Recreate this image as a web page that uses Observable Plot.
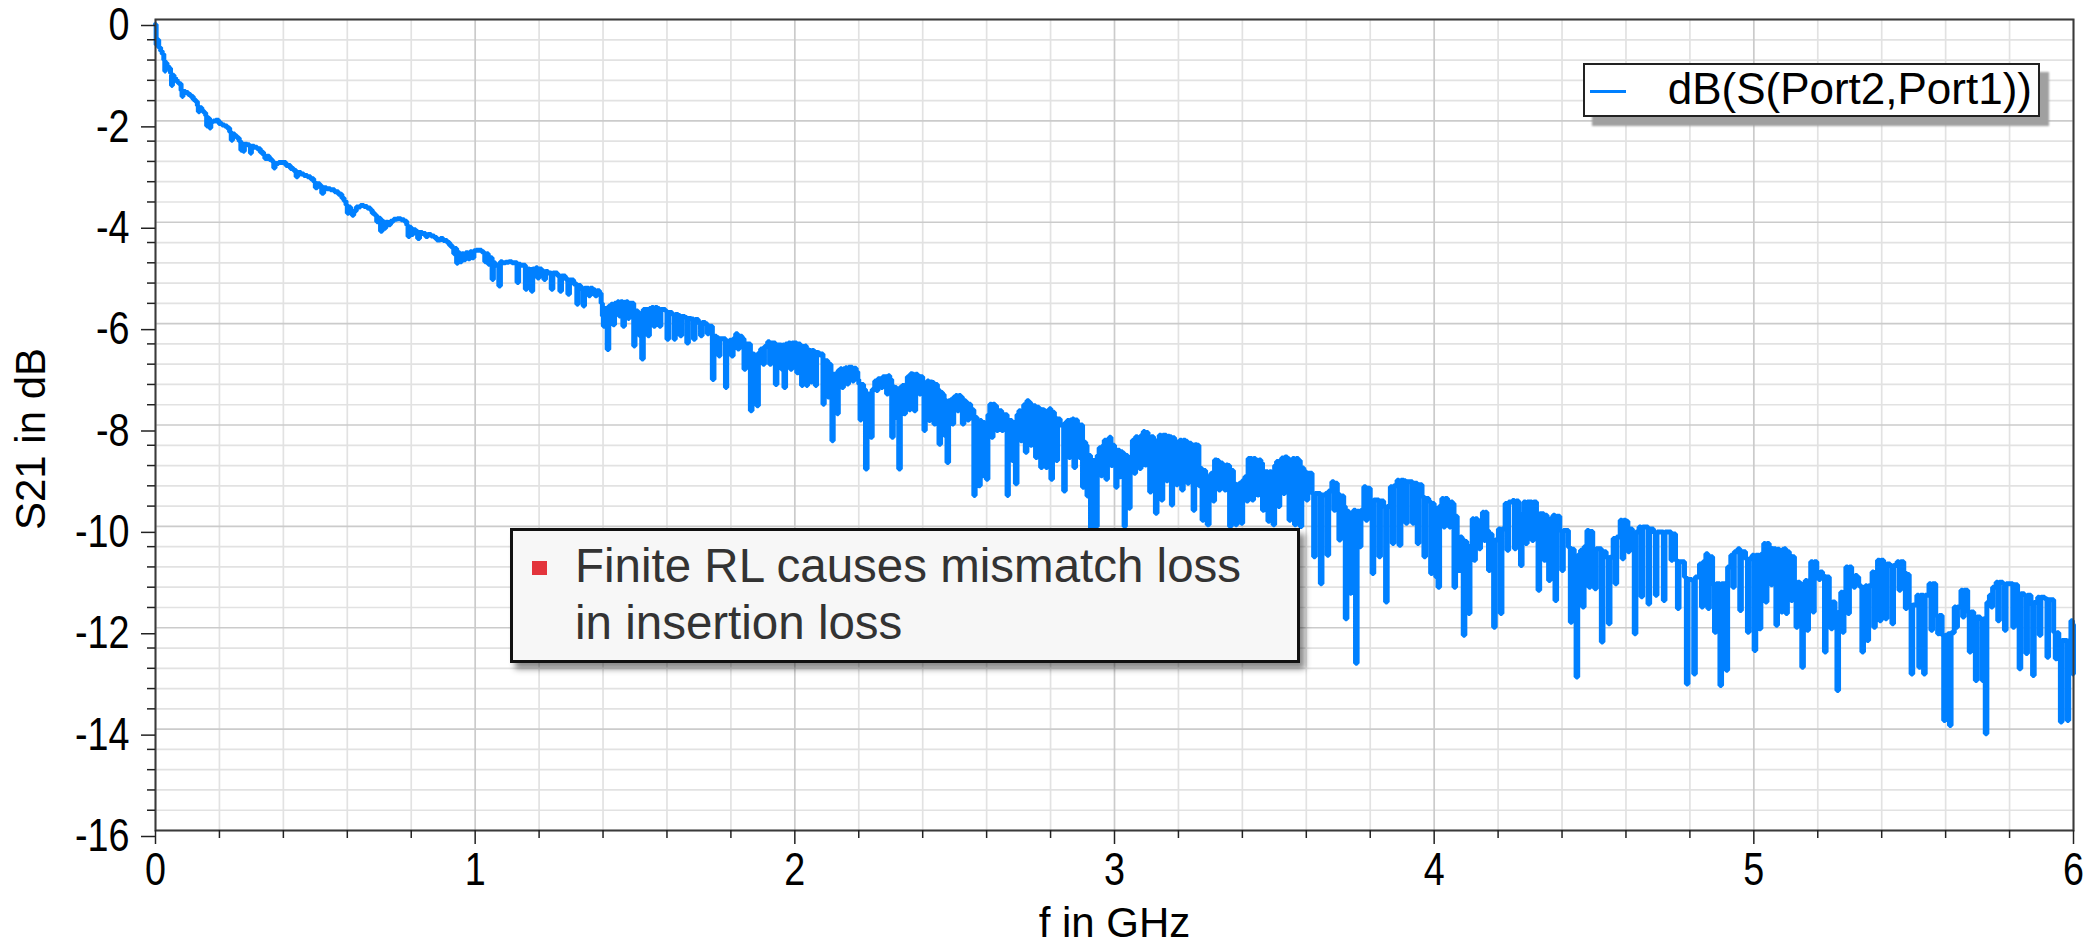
<!DOCTYPE html>
<html><head><meta charset="utf-8">
<script src="https://cdn.jsdelivr.net/npm/d3@7"></script>
<script src="https://cdn.jsdelivr.net/npm/@observablehq/plot@0.6"></script>
<style>
html,body{margin:0;padding:0;background:#fff;}
#wrap{position:relative;width:2097px;height:944px;font-family:"Liberation Sans",Arial,sans-serif;color:#000;}
#legend{position:absolute;left:1583px;top:63px;width:457px;height:54px;box-sizing:border-box;border:2px solid #222;background:#fff;box-shadow:9px 9px 2px #a0a0a0;}
#legend .swatch{position:absolute;left:5px;top:25px;width:36px;height:3px;background:#0080ff;}
#legend .lbl{position:absolute;right:6px;top:-1px;font-size:44px;line-height:50px;white-space:nowrap;}
#note{position:absolute;left:510px;top:528px;width:790px;height:135px;box-sizing:border-box;border:3px solid #111;background:#f7f7f7;box-shadow:5px 6px 6px rgba(0,0,0,0.45);}
#note .bullet{position:absolute;left:19px;top:30px;width:15px;height:14px;background:#e3343c;}
#note .txt{position:absolute;left:62px;top:6px;font-size:47.5px;line-height:57px;color:#333;white-space:nowrap;}
svg text{font-family:"Liberation Sans",Arial,sans-serif;}
</style>
</head><body>
<div id="wrap">
  <div id="chart"></div>
  <div id="legend"><div class="swatch"></div><div class="lbl">dB(S(Port2,Port1))</div></div>
  <div id="note"><div class="bullet"></div><div class="txt">Finite RL causes mismatch loss<br>in insertion loss</div></div>
</div>
<script>
// ---- tick values ----
const xMajor = [0, 1, 2, 3, 4, 5, 6];
const xMinor = [0.2,0.4,0.6,0.8,1.2,1.4,1.6,1.8,2.2,2.4,2.6,2.8,3.2,3.4,3.6,3.8,4.2,4.4,4.6,4.8,5.2,5.4,5.6,5.8];
const yMajor = [0, -2, -4, -6, -8, -10, -12, -14, -16];
const yMinor = [-0.4,-0.8,-1.2,-1.6,-2.4,-2.8,-3.2,-3.6,-4.4,-4.8,-5.2,-5.6,-6.4,-6.8,-7.2,-7.6,-8.4,-8.8,-9.2,-9.6,-10.4,-10.8,-11.2,-11.6,-12.4,-12.8,-13.2,-13.6,-14.4,-14.8,-15.2,-15.6];
const xLabel = "f in GHz";
const yLabel = "S21 in dB";
const seriesName = "dB(S(Port2,Port1))";

// ---- S21 trace, [f (GHz), dB] ----
const seg0 = [[0.000,-0.10],[0.002,-0.50],[0.006,-0.40],[0.010,-0.55],[0.016,-0.62],[0.021,-0.68],[0.026,-0.80],[0.029,-1.02],[0.031,-0.86],[0.036,-0.92],[0.042,-0.96],[0.047,-1.06],[0.050,-1.30],[0.053,-1.10],[0.058,-1.15],[0.063,-1.19],[0.068,-1.24],[0.073,-1.27],[0.080,-1.40],[0.083,-1.52],[0.086,-1.42],[0.094,-1.44],[0.102,-1.48],[0.110,-1.52],[0.118,-1.58],[0.125,-1.62],[0.131,-1.70],[0.134,-1.82],[0.138,-1.74],[0.145,-1.80],[0.151,-1.84],[0.157,-1.90],[0.160,-2.10],[0.164,-1.95],[0.169,-2.14],[0.173,-2.02],[0.180,-2.00],[0.188,-1.99],[0.198,-2.05],[0.208,-2.08],[0.216,-2.10],[0.224,-2.14],[0.232,-2.22],[0.237,-2.38],[0.241,-2.26],[0.248,-2.30],[0.255,-2.34],[0.262,-2.40],[0.267,-2.58],[0.270,-2.45],[0.274,-2.60],[0.278,-2.46],[0.287,-2.47],[0.294,-2.50],[0.297,-2.64],[0.300,-2.50],[0.309,-2.52],[0.318,-2.55],[0.328,-2.62],[0.338,-2.68],[0.342,-2.74],[0.347,-2.70],[0.356,-2.76],[0.365,-2.80],[0.370,-2.93],[0.374,-2.84],[0.385,-2.82],[0.396,-2.82],[0.408,-2.88],[0.422,-2.94],[0.432,-2.98],[0.440,-3.10],[0.445,-3.02],[0.455,-3.05],[0.464,-3.08],[0.475,-3.10],[0.485,-3.14],[0.495,-3.20],[0.500,-3.32],[0.506,-3.24],[0.514,-3.28],[0.520,-3.43],[0.526,-3.32],[0.535,-3.34],[0.547,-3.36],[0.560,-3.40],[0.572,-3.45],[0.583,-3.52],[0.590,-3.58],[0.596,-3.66],[0.600,-3.82],[0.604,-3.70],[0.610,-3.80],[0.615,-3.86],[0.620,-3.78],[0.628,-3.70],[0.641,-3.67],[0.652,-3.69],[0.662,-3.72],[0.672,-3.76],[0.678,-3.82],[0.686,-3.86],[0.692,-3.99],[0.698,-3.92],[0.704,-4.18],[0.709,-3.98],[0.714,-4.12],[0.720,-4.00],[0.728,-4.05],[0.735,-3.98],[0.745,-3.94],[0.756,-3.93],[0.768,-3.95],[0.778,-3.98],[0.786,-4.06],[0.790,-4.28],[0.795,-4.10],[0.800,-4.24],[0.806,-4.15],[0.814,-4.18],[0.820,-4.32],[0.826,-4.20],[0.835,-4.22],[0.845,-4.28],[0.852,-4.24],[0.862,-4.27],[0.872,-4.30],[0.880,-4.35],[0.891,-4.32],[0.900,-4.36],[0.912,-4.40],[0.920,-4.46],[0.928,-4.51],[0.933,-4.62],[0.937,-4.52],[0.942,-4.81],[0.946,-4.60],[0.952,-4.78],[0.958,-4.62],[0.964,-4.74],[0.970,-4.60],[0.978,-4.72],[0.984,-4.58],[0.990,-4.70],[0.996,-4.56]];
const seg1 = [[1.003,-4.55],[1.010,-4.55],[1.020,-4.58],[1.027,-4.60],[1.030,-4.78],[1.036,-4.62],[1.041,-4.83],[1.046,-4.70],[1.053,-5.13],[1.057,-4.80],[1.063,-4.85],[1.074,-5.26],[1.079,-4.78],[1.085,-4.80],[1.095,-4.79],[1.105,-4.78],[1.115,-4.80],[1.131,-5.19],[1.136,-4.83],[1.142,-4.85],[1.157,-5.32],[1.162,-4.92],[1.170,-4.93],[1.176,-5.36],[1.180,-4.92],[1.190,-4.90],[1.195,-5.10],[1.200,-4.92],[1.208,-4.96],[1.215,-5.13],[1.220,-4.97],[1.228,-5.00],[1.238,-5.32],[1.243,-5.00],[1.257,-5.05],[1.265,-5.36],[1.270,-5.06],[1.282,-5.12],[1.290,-5.42],[1.295,-5.14],[1.308,-5.22],[1.318,-5.62],[1.322,-5.25],[1.330,-5.30],[1.338,-5.65],[1.342,-5.30],[1.350,-5.30],[1.355,-5.45],[1.360,-5.30],[1.368,-5.33],[1.375,-5.45],[1.381,-5.35],[1.389,-5.40],[1.394,-5.60],[1.398,-5.85],[1.401,-6.05],[1.405,-5.70],[1.413,-6.51],[1.418,-5.65],[1.425,-5.62],[1.431,-6.02],[1.436,-5.60],[1.445,-5.57],[1.450,-5.85],[1.455,-5.57],[1.462,-6.05],[1.467,-5.58],[1.473,-5.57],[1.478,-5.90],[1.482,-5.60],[1.496,-6.44],[1.500,-5.75],[1.509,-5.78],[1.514,-6.24],[1.521,-6.70],[1.526,-5.72],[1.533,-5.72],[1.540,-6.24],[1.545,-5.70],[1.552,-5.68],[1.558,-6.05],[1.563,-5.68],[1.570,-5.70],[1.576,-6.05],[1.581,-5.72],[1.595,-5.75],[1.600,-6.31],[1.605,-5.78],[1.616,-5.82],[1.622,-6.31],[1.626,-5.82],[1.635,-5.84],[1.641,-6.24],[1.646,-5.86],[1.656,-5.88],[1.662,-6.38],[1.667,-5.90],[1.676,-5.91],[1.683,-6.31],[1.688,-5.92],[1.698,-5.98],[1.705,-6.24],[1.710,-5.98],[1.720,-6.00],[1.726,-6.20],[1.731,-6.05],[1.742,-7.10],[1.747,-6.25],[1.755,-6.28],[1.762,-6.64],[1.766,-6.30],[1.783,-7.26],[1.787,-6.35],[1.796,-6.33],[1.802,-6.64],[1.807,-6.30],[1.815,-6.20],[1.821,-6.50],[1.826,-6.25],[1.835,-6.30],[1.841,-6.90],[1.846,-6.40],[1.861,-7.72],[1.866,-6.60],[1.873,-6.62],[1.881,-7.62],[1.886,-6.58],[1.893,-6.50],[1.900,-6.80],[1.905,-6.45],[1.915,-6.36],[1.921,-6.80],[1.926,-6.38],[1.939,-7.20],[1.944,-6.42],[1.952,-6.42],[1.958,-6.90],[1.962,-6.42],[1.966,-7.26],[1.971,-6.40],[1.980,-6.38],[1.986,-6.90],[1.991,-6.38],[2.000,-6.38],[2.006,-6.97],[2.011,-6.40]];
const seg2 = [[2.017,-6.43],[2.021,-7.22],[2.025,-6.45],[2.032,-6.44],[2.036,-7.22],[2.040,-6.52],[2.046,-6.53],[2.050,-7.15],[2.054,-6.53],[2.060,-6.55],[2.064,-7.22],[2.068,-6.57],[2.074,-6.58],[2.078,-6.62],[2.082,-6.60],[2.088,-7.59],[2.092,-6.73],[2.098,-6.73],[2.103,-7.45],[2.107,-6.80],[2.113,-7.00],[2.116,-8.31],[2.120,-7.00],[2.127,-6.99],[2.132,-7.78],[2.136,-6.92],[2.142,-6.89],[2.147,-7.26],[2.152,-6.89],[2.158,-6.87],[2.163,-7.19],[2.168,-6.86],[2.175,-6.86],[2.180,-7.13],[2.185,-6.88],[2.192,-6.95],[2.197,-7.10],[2.200,-7.19],[2.204,-7.90],[2.208,-7.20],[2.215,-7.30],[2.221,-8.87],[2.226,-7.39],[2.232,-7.39],[2.237,-8.24],[2.242,-7.30],[2.250,-7.13],[2.255,-7.32],[2.260,-7.09],[2.266,-7.09],[2.270,-7.26],[2.275,-7.05],[2.282,-7.05],[2.287,-7.39],[2.292,-7.03],[2.297,-7.10],[2.303,-8.24],[2.308,-7.25],[2.313,-7.26],[2.318,-7.85],[2.322,-7.30],[2.325,-8.87],[2.330,-7.25],[2.336,-7.22],[2.341,-7.78],[2.346,-7.20],[2.352,-7.05],[2.357,-7.70],[2.362,-6.99],[2.368,-7.00],[2.373,-7.72],[2.378,-7.00],[2.384,-7.03],[2.389,-7.39],[2.394,-7.05],[2.400,-7.30],[2.404,-8.11],[2.408,-7.20],[2.414,-7.13],[2.419,-7.91],[2.424,-7.15],[2.430,-7.16],[2.435,-7.98],[2.440,-7.20],[2.446,-7.30],[2.451,-8.38],[2.456,-7.36],[2.462,-7.40],[2.467,-8.20],[2.472,-7.52],[2.476,-8.74],[2.481,-7.52],[2.487,-7.50],[2.492,-7.98],[2.497,-7.45],[2.503,-7.42],[2.508,-7.72],[2.513,-7.42],[2.519,-7.45],[2.524,-7.98],[2.529,-7.52],[2.535,-7.55],[2.540,-7.90],[2.545,-7.59],[2.550,-7.70],[2.560,-9.39],[2.564,-7.85],[2.570,-7.91],[2.575,-9.20],[2.580,-7.91],[2.584,-9.00],[2.589,-7.95],[2.594,-7.98],[2.599,-9.07],[2.604,-7.80],[2.610,-7.59],[2.615,-8.24],[2.620,-7.59],[2.626,-7.62],[2.631,-8.11],[2.636,-7.72],[2.642,-7.72],[2.647,-8.11],[2.652,-7.80],[2.664,-9.39],[2.668,-7.91],[2.674,-7.91],[2.679,-8.70],[2.684,-7.95],[2.690,-9.16],[2.695,-7.80],[2.701,-7.72],[2.706,-8.31],[2.711,-7.72],[2.716,-7.60],[2.721,-8.54],[2.726,-7.52],[2.732,-7.55],[2.737,-8.40],[2.742,-7.62],[2.748,-7.62],[2.753,-8.64],[2.758,-7.65],[2.764,-7.68],[2.769,-8.84],[2.774,-7.70],[2.780,-7.72],[2.785,-8.84],[2.790,-7.72],[2.796,-7.68],[2.801,-9.07],[2.806,-7.75],[2.812,-7.85],[2.817,-8.70],[2.822,-7.88],[2.830,-8.00],[2.841,-9.30],[2.846,-7.95],[2.852,-7.91],[2.857,-8.64],[2.862,-7.90],[2.868,-7.88],[2.873,-8.84],[2.878,-7.90],[2.884,-7.98],[2.889,-8.64],[2.894,-8.00],[2.900,-9.23],[2.904,-8.34],[2.910,-8.40],[2.914,-9.40],[2.918,-8.60],[2.925,-10.15],[2.930,-8.70],[2.936,-8.70],[2.941,-10.00],[2.946,-8.60],[2.952,-8.45],[2.957,-9.00],[2.962,-8.41],[2.968,-8.30],[2.973,-9.07],[2.978,-8.28],[2.984,-8.24],[2.989,-8.80],[2.994,-8.40],[3.000,-8.55],[3.004,-9.23],[3.008,-8.50]];
const seg3 = [[3.012,-8.50],[3.016,-9.02],[3.020,-8.53],[3.025,-8.55],[3.030,-10.00],[3.034,-8.60],[3.041,-8.63],[3.045,-9.64],[3.049,-8.63],[3.056,-8.30],[3.061,-8.95],[3.066,-8.23],[3.072,-8.25],[3.078,-8.86],[3.083,-8.20],[3.090,-8.13],[3.095,-8.79],[3.100,-8.15],[3.105,-8.23],[3.110,-9.32],[3.115,-8.23],[3.122,-8.30],[3.128,-9.74],[3.133,-8.30],[3.140,-8.20],[3.146,-9.48],[3.151,-8.20],[3.157,-8.20],[3.162,-9.10],[3.167,-8.22],[3.172,-8.23],[3.178,-9.58],[3.182,-8.25],[3.188,-8.33],[3.193,-9.18],[3.198,-8.33],[3.204,-8.30],[3.210,-9.28],[3.215,-8.30],[3.222,-8.32],[3.228,-9.15],[3.233,-8.36],[3.240,-8.39],[3.246,-9.68],[3.251,-8.39],[3.258,-8.40],[3.264,-9.20],[3.268,-8.86],[3.274,-9.88],[3.279,-8.90],[3.285,-9.00],[3.290,-9.97],[3.296,-9.02],[3.302,-8.95],[3.308,-9.50],[3.313,-8.69],[3.320,-8.70],[3.326,-9.28],[3.331,-8.75],[3.338,-8.79],[3.344,-9.28],[3.349,-8.79],[3.355,-8.80],[3.360,-10.00],[3.365,-8.90],[3.372,-9.15],[3.378,-9.97],[3.383,-9.18],[3.390,-9.15],[3.396,-9.94],[3.401,-9.09],[3.408,-9.02],[3.413,-9.50],[3.418,-8.66],[3.424,-8.66],[3.430,-9.48],[3.435,-8.66],[3.441,-8.69],[3.447,-9.38],[3.452,-8.69],[3.458,-8.75],[3.463,-9.68],[3.468,-8.92],[3.474,-8.92],[3.480,-9.90],[3.485,-8.92],[3.491,-8.95],[3.496,-9.97],[3.501,-8.80],[3.507,-8.72],[3.512,-9.61],[3.517,-8.70],[3.523,-8.65],[3.528,-9.35],[3.533,-8.63],[3.540,-8.66],[3.546,-9.88],[3.551,-8.69],[3.557,-8.66],[3.563,-9.97],[3.568,-8.66],[3.575,-8.70],[3.581,-10.00],[3.586,-8.85],[3.592,-8.92],[3.600,-9.48],[3.605,-8.95],[3.618,-9.35],[3.623,-10.60],[3.628,-9.35],[3.639,-9.35],[3.644,-11.13],[3.649,-9.38],[3.660,-9.35],[3.665,-10.57],[3.670,-9.30],[3.680,-9.12],[3.686,-9.68],[3.691,-9.15],[3.697,-9.35],[3.702,-10.27],[3.707,-9.40],[3.717,-9.61],[3.722,-11.82],[3.727,-9.70],[3.733,-10.20],[3.737,-11.32],[3.741,-9.75],[3.748,-9.68],[3.754,-12.70],[3.759,-9.70],[3.766,-10.40],[3.771,-9.68],[3.780,-9.22],[3.786,-9.88],[3.791,-9.25],[3.800,-9.48],[3.806,-10.93],[3.811,-9.48],[3.821,-9.48],[3.827,-10.60],[3.832,-9.50],[3.842,-9.61],[3.848,-11.49],[3.853,-9.61],[3.863,-9.22],[3.869,-10.34],[3.874,-9.20],[3.884,-9.09],[3.890,-10.37],[3.896,-9.09],[3.905,-9.10],[3.911,-9.94],[3.916,-9.12],[3.926,-9.12],[3.932,-9.94],[3.937,-9.15],[3.941,-9.15],[3.947,-10.34],[3.952,-9.18],[3.962,-9.41],[3.968,-10.60],[3.973,-9.45],[3.983,-9.51],[3.989,-10.93],[3.994,-9.55]];
const seg4 = [[4.000,-9.62],[4.005,-11.00],[4.009,-9.65],[4.012,-11.20],[4.017,-9.60],[4.024,-9.45],[4.029,-10.01],[4.034,-9.45],[4.042,-9.52],[4.047,-10.01],[4.052,-9.52],[4.058,-9.55],[4.062,-11.20],[4.067,-9.80],[4.072,-10.21],[4.077,-10.87],[4.082,-10.21],[4.087,-10.25],[4.091,-12.15],[4.096,-10.30],[4.102,-10.38],[4.107,-11.72],[4.112,-10.38],[4.119,-9.85],[4.124,-10.67],[4.129,-9.85],[4.135,-9.88],[4.140,-10.44],[4.145,-9.88],[4.151,-9.72],[4.156,-10.28],[4.160,-9.72],[4.165,-10.08],[4.170,-10.87],[4.175,-10.15],[4.181,-10.27],[4.186,-11.99],[4.191,-10.27],[4.201,-10.05],[4.207,-11.72],[4.212,-10.05],[4.222,-9.55],[4.228,-10.47],[4.233,-9.52],[4.245,-9.49],[4.251,-10.44],[4.256,-9.50],[4.264,-9.75],[4.270,-10.77],[4.275,-9.75],[4.280,-9.52],[4.286,-10.34],[4.291,-9.52],[4.300,-9.52],[4.306,-10.28],[4.311,-9.52],[4.320,-9.75],[4.325,-11.26],[4.330,-9.75],[4.338,-9.75],[4.343,-10.67],[4.348,-9.78],[4.353,-9.85],[4.358,-11.07],[4.363,-9.85],[4.372,-9.78],[4.378,-11.46],[4.383,-9.80],[4.393,-10.08],[4.399,-10.87],[4.404,-10.08],[4.420,-10.41],[4.426,-11.89],[4.431,-10.45],[4.438,-10.57],[4.444,-12.97],[4.449,-10.57],[4.458,-10.47],[4.464,-11.59],[4.469,-10.40],[4.478,-10.08],[4.484,-11.20],[4.489,-10.10],[4.496,-10.44],[4.502,-11.23],[4.507,-10.44],[4.517,-10.44],[4.523,-12.28],[4.528,-10.50],[4.538,-10.61],[4.545,-11.92],[4.550,-10.61],[4.560,-10.24],[4.566,-11.13],[4.571,-10.21],[4.582,-9.88],[4.588,-10.64],[4.593,-9.88],[4.600,-9.90],[4.606,-10.50],[4.611,-10.05],[4.620,-10.11],[4.626,-12.12],[4.631,-10.11],[4.641,-10.01],[4.647,-11.39],[4.652,-10.01],[4.663,-10.01],[4.669,-11.53],[4.674,-10.05],[4.686,-10.11],[4.692,-11.36],[4.697,-10.11],[4.711,-10.11],[4.717,-11.46],[4.722,-10.11],[4.735,-10.11],[4.741,-10.67],[4.746,-10.15],[4.755,-10.67],[4.761,-11.62],[4.766,-10.70],[4.783,-11.00],[4.789,-13.11],[4.794,-11.05],[4.806,-11.07],[4.812,-12.91],[4.817,-11.00],[4.830,-10.74],[4.836,-11.59],[4.841,-10.70],[4.850,-10.54],[4.856,-11.62],[4.861,-10.60],[4.871,-11.13],[4.877,-12.09],[4.882,-11.13],[4.889,-11.13],[4.894,-13.14],[4.899,-11.13],[4.908,-11.13],[4.913,-12.84],[4.918,-10.80],[4.928,-10.57],[4.934,-11.20],[4.939,-10.50],[4.950,-10.44],[4.956,-11.66],[4.961,-10.50],[4.974,-10.64],[4.980,-12.09],[4.985,-10.64],[4.995,-10.57],[5.001,-12.45],[5.006,-10.57]];
const seg5 = [[5.012,-10.57],[5.017,-12.02],[5.022,-10.55],[5.031,-10.34],[5.036,-11.49],[5.041,-10.34],[5.048,-10.40],[5.053,-11.15],[5.058,-10.44],[5.064,-10.44],[5.069,-11.95],[5.074,-10.45],[5.080,-10.47],[5.085,-11.69],[5.090,-10.45],[5.095,-10.44],[5.100,-11.72],[5.105,-10.50],[5.111,-10.57],[5.116,-11.46],[5.121,-10.60],[5.127,-11.10],[5.132,-11.99],[5.137,-11.10],[5.144,-11.13],[5.150,-12.78],[5.155,-11.13],[5.161,-11.07],[5.166,-12.05],[5.171,-11.07],[5.178,-10.70],[5.184,-11.69],[5.189,-10.70],[5.197,-10.90],[5.203,-11.05],[5.208,-10.90],[5.215,-10.97],[5.221,-12.48],[5.226,-11.00],[5.236,-11.49],[5.241,-12.02],[5.246,-11.49],[5.254,-11.69],[5.260,-13.24],[5.265,-11.69],[5.272,-11.30],[5.277,-12.09],[5.282,-11.30],[5.288,-10.80],[5.294,-11.72],[5.299,-10.80],[5.306,-10.97],[5.312,-11.20],[5.317,-10.97],[5.323,-11.00],[5.328,-11.15],[5.333,-11.20],[5.338,-12.48],[5.343,-11.20],[5.349,-11.17],[5.354,-12.25],[5.359,-11.17],[5.370,-10.90],[5.375,-11.99],[5.380,-10.90],[5.387,-10.67],[5.393,-11.86],[5.398,-10.67],[5.406,-10.74],[5.411,-11.82],[5.416,-10.74],[5.426,-10.77],[5.432,-11.92],[5.437,-10.77],[5.448,-10.70],[5.454,-11.26],[5.459,-10.70],[5.469,-10.90],[5.474,-11.62],[5.479,-10.95],[5.486,-11.59],[5.492,-12.91],[5.497,-11.55],[5.510,-11.36],[5.516,-12.78],[5.521,-11.36],[5.526,-11.36],[5.531,-12.91],[5.536,-11.36],[5.548,-11.13],[5.554,-12.05],[5.559,-11.13],[5.569,-11.76],[5.575,-12.12],[5.580,-11.76],[5.589,-12.15],[5.594,-13.83],[5.599,-12.15],[5.607,-12.12],[5.612,-13.93],[5.617,-12.10],[5.627,-11.59],[5.632,-11.99],[5.637,-11.59],[5.648,-11.26],[5.653,-11.79],[5.658,-11.26],[5.669,-11.69],[5.674,-12.48],[5.679,-11.69],[5.688,-11.79],[5.693,-13.04],[5.698,-11.79],[5.708,-11.82],[5.714,-13.04],[5.719,-11.82],[5.724,-14.09],[5.729,-11.50],[5.737,-11.36],[5.742,-11.59],[5.747,-11.20],[5.758,-11.10],[5.763,-11.86],[5.768,-11.10],[5.779,-11.13],[5.784,-12.05],[5.789,-11.13],[5.805,-11.13],[5.810,-11.99],[5.815,-11.15],[5.825,-11.33],[5.830,-12.81],[5.835,-11.33],[5.846,-11.36],[5.851,-12.51],[5.856,-11.36],[5.867,-11.53],[5.872,-12.94],[5.877,-11.50],[5.888,-11.40],[5.893,-12.15],[5.898,-11.40],[5.910,-11.43],[5.917,-12.58],[5.922,-11.45],[5.938,-12.09],[5.943,-12.61],[5.948,-12.10],[5.954,-12.25],[5.959,-13.86],[5.964,-12.25],[5.975,-12.25],[5.980,-13.83],[5.985,-12.25],[5.992,-11.86],[5.997,-12.91],[6.000,-11.95]];

const trace = [...seg0, ...seg1, ...seg2, ...seg3, ...seg4, ...seg5].map(([f, db]) => ({f, db}));

const tickFont = 46;
const titleFont = 42;
const chart = Plot.plot({
  width: 2097,
  height: 944,
  marginLeft: 155,
  marginRight: 24,
  marginTop: 19,
  marginBottom: 114,
  style: {background: "#fff", color: "#000", fontFamily: "'Liberation Sans', Arial, sans-serif"},
  x: {domain: [0, 6]},
  y: {domain: [-16, 0]},
  marks: [
    Plot.gridX(xMinor, {stroke: "#e2e2e2", strokeOpacity: 1, strokeWidth: 1.7}),
    Plot.gridY(yMinor, {stroke: "#e2e2e2", strokeOpacity: 1, strokeWidth: 1.7}),
    Plot.gridX(xMajor, {stroke: "#cbcbcb", strokeOpacity: 1, strokeWidth: 1.7}),
    Plot.gridY(yMajor, {stroke: "#cbcbcb", strokeOpacity: 1, strokeWidth: 1.7}),
    Plot.line(trace, {x: "f", y: "db", stroke: "#0080ff", strokeWidth: 5, curve: "step-after", strokeLinejoin: "miter"}),
    Plot.frame({stroke: "#3a3a3a", strokeWidth: 2}),
    Plot.axisX(xMinor, {tickSize: 8, tickFormat: () => "", label: null, stroke: "#222", strokeWidth: 1.5}),
    Plot.axisX(xMajor, {tickSize: 14, tickPadding: 8, fontSize: tickFont, label: null, stroke: "#222", strokeWidth: 1.5, tickFormat: d => String(d)}),
    Plot.axisY(yMinor, {tickSize: 8, tickFormat: () => "", label: null, stroke: "#222", strokeWidth: 1.5}),
    Plot.axisY(yMajor, {tickSize: 14, tickPadding: 12, fontSize: tickFont, dy: 6, label: null, stroke: "#222", strokeWidth: 1.5, tickFormat: d => String(d)}),
    Plot.text([xLabel], {frameAnchor: "bottom", dy: 106, fontSize: titleFont, fill: "#000"}),
    Plot.text([yLabel], {frameAnchor: "left", dx: -124, dy: 14, rotate: -90, textAnchor: "middle", fontSize: titleFont, fill: "#000"})
  ]
});
document.getElementById("chart").appendChild(chart);
document.querySelector("#legend .lbl").textContent = seriesName;

// tick labels in the reference are set in a slightly condensed face
const sx = 0.82;
d3.select(chart).selectAll("g[aria-label$='tick label'] text").each(function() {
  const x = +this.getAttribute("x") || 0, y = +this.getAttribute("y") || 0;
  const t = this.getAttribute("transform") || "";
  this.setAttribute("transform", `${t} translate(${x},${y}) scale(${sx},1) translate(${-x},${-y})`);
});
</script>
</body></html>
